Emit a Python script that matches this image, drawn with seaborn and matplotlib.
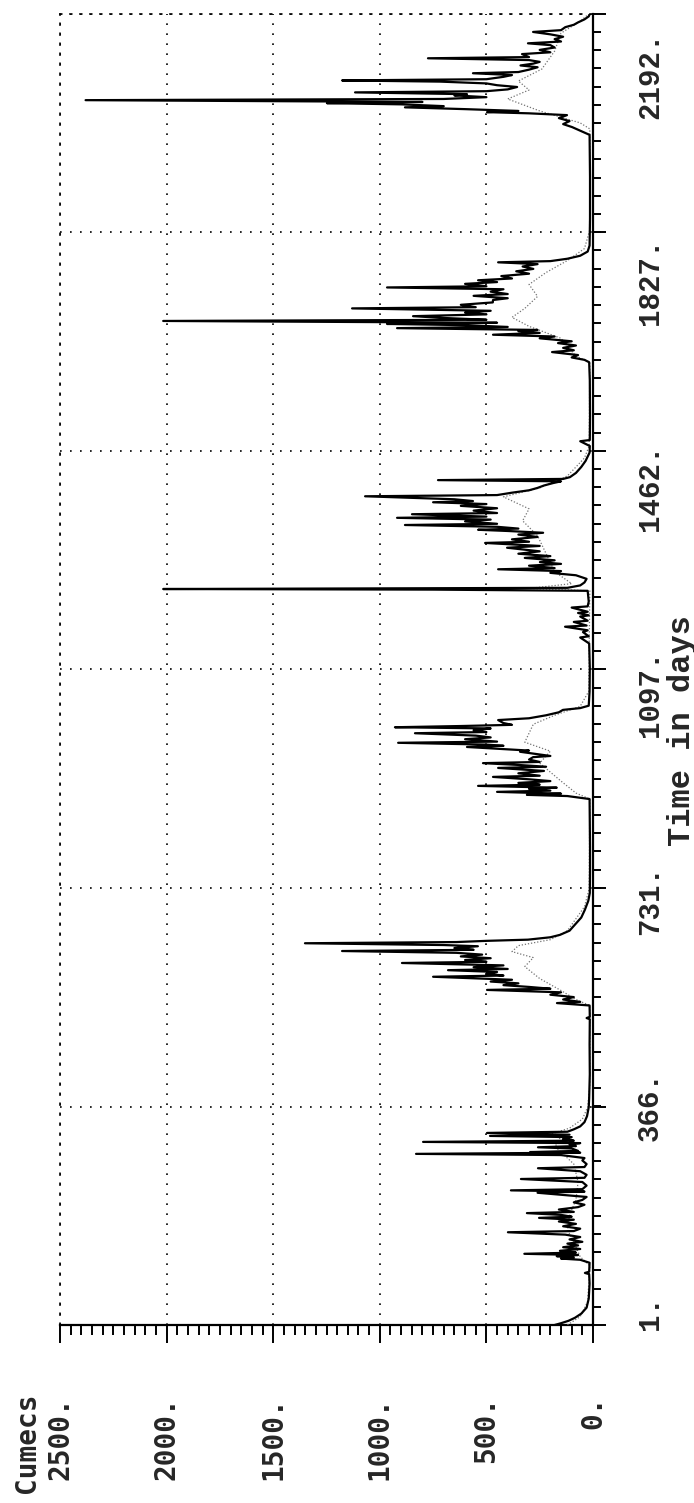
import matplotlib
matplotlib.use("Agg")
import matplotlib.pyplot as plt
import matplotlib.transforms as mtransforms
from matplotlib.ticker import FixedLocator, MultipleLocator
import numpy as np
import pandas as pd
import seaborn as sns

sns.set_style("white")

# --- data (daily flow, cumecs) --------------------------------------------
# solid series, one chunk per flood season (day, flow)
s1_day = [1, 4, 8, 13, 20, 30, 45, 70, 86, 88, 90, 105,
          110, 112, 114, 116, 118, 120, 122, 125, 128, 131,
          134, 137, 140, 144, 148, 152, 156, 158, 162, 166,
          170, 174, 177, 180, 182, 185, 188, 190, 194, 198,
          202, 206, 210, 215, 222, 224, 226, 228, 234, 240,
          245, 247, 252, 258, 263, 265, 270, 276, 280, 285,
          287, 289, 290, 292, 296, 298, 300, 303, 305, 307,
          309, 312, 315, 317, 319, 322, 324, 328, 333, 340,
          350, 365]
s1_flow = [180, 150, 115, 85, 55, 30, 20, 16, 18, 38, 18, 16,
           60, 150, 90, 170, 70, 322, 80, 155, 60, 140,
           70, 120, 50, 110, 60, 130, 399, 90, 60, 140,
           80, 160, 90, 253, 100, 150, 310, 90, 160, 70,
           40, 90, 50, 30, 260, 40, 385, 50, 30, 50,
           338, 40, 30, 60, 258, 40, 30, 50, 40, 150,
           830, 60, 295, 70, 100, 258, 80, 110, 60, 797,
           90, 140, 100, 483, 110, 497, 120, 90, 60, 40,
           28, 20]

s2_day = [380, 420, 470, 512, 514, 516, 535,
          539, 541, 545, 549, 553, 557, 561, 563, 566, 569,
          572, 575, 578, 583, 585, 588, 591, 594, 596, 599,
          602, 606, 608, 611, 614, 617, 620, 623, 626, 628,
          631, 634, 636, 639, 641, 643, 645, 649, 653, 660,
          670, 682, 695, 710, 723, 760, 800, 850, 880]
s2_flow = [18, 15, 16, 15, 30, 15, 16,
           169, 60, 140, 90, 200, 150, 497, 200, 300, 420,
           350, 480, 380, 750, 420, 500, 450, 680, 400, 560,
           420, 896, 500, 600, 480, 620, 520, 640, 1177, 560,
           650, 540, 700, 1351, 640, 500, 305, 200, 155, 110,
           85, 55, 38, 22, 15, 14, 14, 15, 16]

s3_day = [885, 887, 889, 892, 894, 897, 899, 902, 904, 907,
          910, 913, 917, 919, 923, 927, 932, 934, 937, 940,
          942, 946, 950, 952, 955, 959, 961, 964, 967, 969,
          971, 974, 976, 980, 983, 986, 990, 992, 995, 998,
          1000, 1002, 1004, 1007, 1012, 1015, 1020, 1025, 1029, 1032,
          1036, 1060, 1100, 1140]
s3_flow = [120, 310, 150, 450, 200, 300, 170, 539, 250, 350,
           200, 300, 469, 250, 350, 230, 445, 220, 350, 516,
           250, 300, 281, 200, 260, 342, 300, 450, 591, 420,
           500, 914, 450, 600, 480, 550, 835, 500, 560, 480,
           929, 624, 380, 420, 445, 300, 220, 160, 141, 60,
           20, 16, 15, 18]

s4_day = [1150, 1152, 1159, 1162, 1168, 1170, 1176, 1178, 1185, 1187,
          1191, 1193, 1200, 1202, 1210, 1228, 1230, 1231, 1233, 1237,
          1242, 1248, 1254, 1258, 1261, 1264, 1266, 1270, 1273, 1276,
          1279, 1283, 1286, 1290, 1294, 1300, 1303, 1308, 1310, 1314,
          1318, 1322, 1325, 1328, 1330, 1332, 1335, 1338, 1340, 1344,
          1347, 1350, 1352, 1356, 1358, 1362, 1366, 1370, 1373, 1376,
          1378, 1381, 1384, 1386, 1388, 1392, 1396, 1400, 1404, 1408,
          1411, 1413, 1415, 1418, 1425, 1435, 1445, 1459, 1470, 1478,
          1480, 1520, 1580, 1610]
s4_flow = [60, 20, 47, 25, 131, 30, 90, 25, 60, 20,
           70, 25, 100, 25, 20, 25, 750, 2016, 120, 60,
           40, 30, 80, 200, 150, 445, 180, 300, 150, 249,
           180, 320, 200, 350, 250, 403, 250, 506, 300, 380,
           260, 350, 234, 400, 539, 350, 450, 882, 450, 600,
           480, 919, 500, 849, 450, 560, 450, 620, 500, 750,
           563, 650, 896, 1069, 450, 380, 300, 260, 230, 188,
           150, 727, 140, 108, 80, 55, 35, 16, 15, 60,
           15, 14, 15, 18]

s5_day = [1614, 1618, 1622, 1627, 1630, 1634, 1638, 1642, 1645, 1650,
          1653, 1656, 1659, 1662, 1664, 1667, 1669, 1672, 1674, 1676,
          1679, 1681, 1684, 1687, 1690, 1693, 1696, 1700, 1702, 1706,
          1710, 1714, 1717, 1721, 1724, 1728, 1732, 1735, 1737, 1741,
          1744, 1747, 1750, 1754, 1758, 1762, 1766, 1770, 1774, 1777,
          1779, 1783, 1788, 1795, 1805, 1850, 1920, 1990]
s5_flow = [40, 100, 70, 192, 90, 140, 80, 164, 100, 250,
           180, 469, 250, 350, 260, 919, 400, 600, 966, 450,
           2016, 500, 700, 844, 500, 600, 480, 1130, 550, 620,
           470, 469, 400, 560, 400, 480, 420, 966, 500, 600,
           450, 539, 380, 430, 300, 360, 280, 330, 260, 445,
           200, 120, 60, 25, 16, 14, 14, 16]

s6_day = [2003, 2008, 2013, 2018, 2023, 2026, 2028, 2030, 2033, 2036,
          2038, 2041, 2043, 2045, 2048, 2050, 2053, 2056, 2058, 2061,
          2063, 2066, 2070, 2073, 2076, 2079, 2081, 2083, 2087, 2090,
          2093, 2095, 2099, 2103, 2106, 2109, 2112, 2115, 2118, 2120,
          2125, 2128, 2132, 2136, 2140, 2143, 2146, 2150, 2154, 2158,
          2162, 2165, 2170, 2174, 2178, 2183, 2188, 2192]
s6_flow = [98, 140, 110, 160, 122, 300, 497, 350, 600, 882,
           700, 900, 1248, 800, 2380, 700, 500, 650, 591, 1116,
           500, 400, 356, 450, 500, 717, 1177, 500, 420, 380,
           563, 350, 300, 260, 340, 281, 250, 300, 774, 300,
           333, 200, 250, 180, 200, 305, 150, 180, 140, 200,
           281, 150, 130, 90, 70, 40, 20, 15]

# dotted (smoother) series
sim_day = [1, 15, 40, 100, 115, 140, 160, 185, 210, 240,
           270, 290, 300, 310, 320, 330, 345, 365, 400, 535,
           545, 560, 580, 600, 615, 625, 635, 645, 660, 700,
           730, 880, 890, 910, 940, 960, 975, 990, 1005, 1020,
           1035, 1060, 1228, 1232, 1240, 1260, 1290, 1320, 1345, 1365,
           1385, 1400, 1420, 1450, 1470, 1610, 1620, 1650, 1670, 1685,
           1700, 1720, 1740, 1760, 1780, 1800, 1830, 2000, 2010, 2030,
           2050, 2065, 2080, 2100, 2130, 2160, 2180, 2192]
sim_flow = [120, 60, 25, 15, 60, 90, 120, 110, 80, 70,
            90, 150, 180, 140, 200, 110, 50, 25, 15, 15,
            80, 150, 250, 320, 280, 380, 350, 200, 120, 40,
            18, 15, 80, 150, 250, 200, 320, 300, 280, 180,
            60, 20, 15, 300, 100, 180, 220, 260, 330, 300,
            420, 250, 120, 40, 18, 15, 80, 150, 300, 380,
            320, 260, 300, 220, 120, 40, 16, 15, 60, 250,
            400, 300, 350, 240, 180, 150, 60, 20]

cumecs_ticks = [0, 500, 1000, 1500, 2000, 2500]
day_ticks = [1, 366, 731, 1097, 1462, 1827, 2192]

obs = pd.DataFrame({
    "day": s1_day + s2_day + s3_day + s4_day + s5_day + s6_day,
    "flow": s1_flow + s2_flow + s3_flow + s4_flow + s5_flow + s6_flow,
})
sim = pd.DataFrame({"day": sim_day, "flow": sim_flow})

# --- figure (drawn turned on its side, like the printout) -----------------
W, H = 694, 1503
fig = plt.figure(figsize=(W / 100, H / 100), dpi=100)
ax = fig.add_axes([60 / W, 178 / H, 533 / W, 1311 / H])

dotted = (0, (1, 5))
sns.lineplot(data=sim, x="flow", y="day", sort=False, estimator=None,
             orient="y", ax=ax, color="0.45", linewidth=0.9,
             linestyle=(0, (1, 1.5)), zorder=3)
sns.lineplot(data=obs, x="flow", y="day", sort=False, estimator=None,
             orient="y", ax=ax, color="black", linewidth=1.6, zorder=4)

ax.set_xlim(2500, 0)
ax.set_ylim(1, 2192)
ax.set_xlabel("")
ax.set_ylabel("")

# cumecs axis (bottom of the page)
sans_mono = ["DejaVu Sans Mono"]
ax.xaxis.set_major_locator(FixedLocator(cumecs_ticks))
ax.xaxis.set_minor_locator(MultipleLocator(50))
ax.set_xticklabels([f"{v}." for v in cumecs_ticks], rotation=90,
                   fontfamily=sans_mono, fontweight="bold", fontsize=20)
ax.tick_params(axis="x", which="both", direction="out", bottom=True,
               top=False, color="black", width=1.4)
ax.tick_params(axis="x", which="major", length=13, pad=38)
ax.tick_params(axis="x", which="minor", length=7)

# time axis (right side of the page)
ax.yaxis.tick_right()
ax.yaxis.set_major_locator(FixedLocator(day_ticks))
ax.yaxis.set_minor_locator(FixedLocator(np.arange(1, 2193, 365.25 / 12)))
ax.tick_params(axis="y", which="both", direction="out", right=True,
               left=False, labelright=False, labelleft=False,
               color="black", width=1.4)
ax.tick_params(axis="y", which="major", length=9.5)
ax.tick_params(axis="y", which="minor", length=6)

ax.grid(True, which="major", color="black", linestyle=dotted, linewidth=1.2)
for side in ["left", "top"]:
    ax.spines[side].set_linestyle(dotted)
    ax.spines[side].set_linewidth(1.2)
    ax.spines[side].set_color("black")
for side in ["right", "bottom"]:
    ax.spines[side].set_linewidth(1.6)
    ax.spines[side].set_color("black")

# day labels sit evenly spaced, a little off the grid lines
trans = mtransforms.blended_transform_factory(ax.transAxes, ax.transData)
serif_mono = ["Liberation Mono", "DejaVu Sans Mono"]
label_pos = np.linspace(22, 2090, len(day_ticks))
for d, pos in zip(day_ticks, label_pos):
    ax.text(1.107, pos, f"{d}.", transform=trans, rotation=90,
            ha="center", va="center", family=serif_mono,
            fontweight="bold", fontsize=21, clip_on=False)
ax.text(1.167, 995, "Time in days", transform=trans, rotation=90,
        ha="center", va="center", family=serif_mono, fontweight="bold",
        fontsize=23, clip_on=False)

fig.text(27 / W, 10 / H, "Cumecs", rotation=90, ha="center", va="bottom",
         family=sans_mono, fontweight="bold", fontsize=20)

fig.savefig("out.png", dpi=100)
